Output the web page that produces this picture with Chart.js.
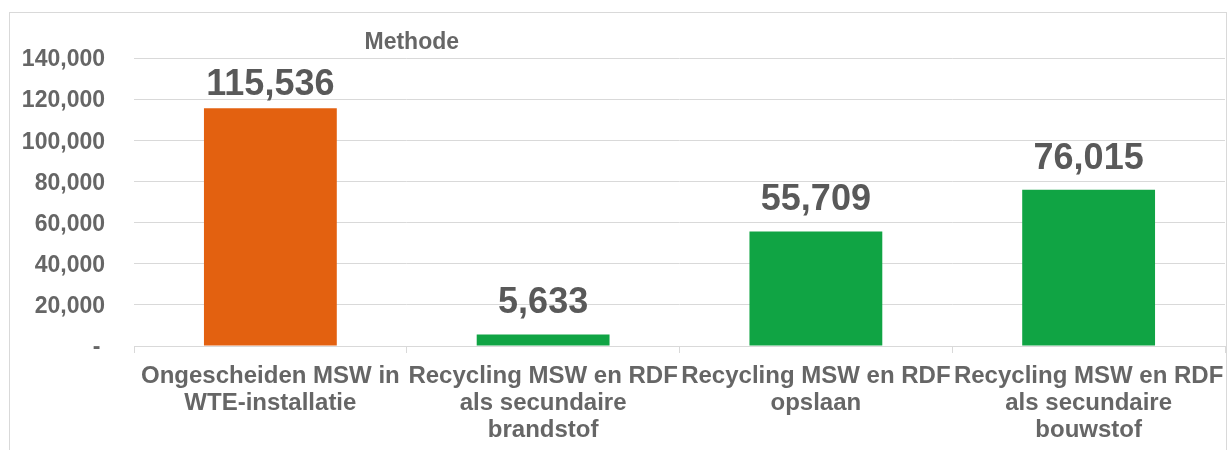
<!DOCTYPE html>
<html>
<head>
<meta charset="utf-8">
<script src="https://cdn.jsdelivr.net/npm/chart.js@4"></script>
<style>
  body { margin: 0; background: #fff; }
  #wrap {
    position: absolute;
    left: 9px;
    top: 12px;
    width: 1216px;
    height: 440px;
    border: 1px solid #d9d9d9;
  }
</style>
</head>
<body>
<div id="wrap"><canvas id="barChart" width="1216" height="440"></canvas></div>
<script>
const categories = [
  ["Ongescheiden MSW in", "WTE-installatie"],
  ["Recycling MSW en RDF", "als secundaire", "brandstof"],
  ["Recycling MSW en RDF", "opslaan"],
  ["Recycling MSW en RDF", "als secundaire", "bouwstof"]
];
const values = [115536, 5633, 55709, 76015];
const barColors = ["#e36110", "#10a444", "#10a444", "#10a444"];
const seriesName = "Methode";

const FONT = "'Liberation Sans', Arial, sans-serif";

// value labels on top of the bars + series name
const labelPlugin = {
  id: "labels",
  afterDatasetsDraw(chart) {
    const ctx = chart.ctx;
    const meta = chart.getDatasetMeta(0);
    const top = chart.chartArea.top;
    ctx.save();
    ctx.fillStyle = "#595959";
    ctx.font = "bold 36px " + FONT;
    ctx.textAlign = "center";
    ctx.textBaseline = "alphabetic";
    meta.data.forEach((bar, i) => {
      // keep the label inside the plot area like Excel does
      const y = Math.max(bar.y - 21, top + 37);
      ctx.fillText(values[i].toLocaleString("en-US"), bar.x, y);
    });
    // "Methode" sits above the first category boundary
    const xs = chart.scales.x;
    const bx = (xs.getPixelForValue(0) + xs.getPixelForValue(1)) / 2;
    ctx.font = "bold 23px " + FONT;
    ctx.fillStyle = "#666666";
    ctx.textBaseline = "middle";
    ctx.fillText(seriesName, bx + 5, 30);
    ctx.restore();
  }
};

const ctx = document.getElementById("barChart").getContext("2d");
new Chart(ctx, {
  type: "bar",
  data: {
    labels: categories,
    datasets: [
      {
        label: seriesName,
        data: values,
        backgroundColor: barColors,
        borderWidth: 0,
        categoryPercentage: 1,
        barPercentage: 0.487
      }
    ]
  },
  options: {
    responsive: false,
    animation: false,
    layout: { padding: { top: 45, right: 1, left: 0, bottom: 0 } },
    plugins: {
      legend: { display: false },
      title: { display: false },
      tooltip: { enabled: false }
    },
    scales: {
      x: {
        grid: {
          offset: true,
          drawOnChartArea: false,
          drawTicks: true,
          tickLength: 7,
          color: "#d9d9d9"
        },
        border: { color: "#d9d9d9" },
        ticks: {
          color: "#666666",
          font: { family: FONT, size: 24, weight: "bold", lineHeight: 1.13 },
          maxRotation: 0,
          autoSkip: false,
          padding: 10
        },
        afterFit: (s) => {
          s.height = 107;
          // labels fit in their categories, don't shrink the plot
          s.paddingLeft = 0;
          s.paddingRight = 0;
        }
      },
      y: {
        min: 0,
        max: 140000,
        grid: { color: "#d9d9d9", drawTicks: false },
        border: { display: false },
        ticks: {
          stepSize: 20000,
          color: "#666666",
          padding: 29,
          labelOffset: 2,
          font: { family: FONT, size: 23, weight: "bold" },
          callback: (v) => (v === 0 ? "-\u2009" : v.toLocaleString("en-US"))
        },
        afterFit: (s) => { s.width = 124; }
      }
    }
  },
  plugins: [labelPlugin]
});
</script>
</body>
</html>
